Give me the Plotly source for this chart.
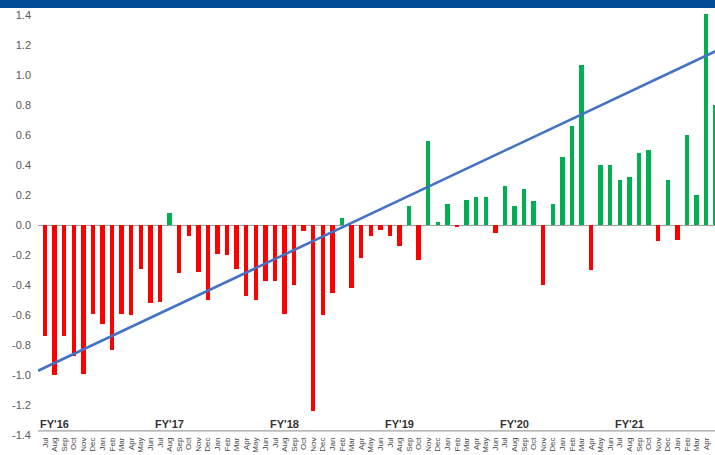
import plotly.graph_objects as go

# Monthly values, Jul FY'16 through May FY'22
months = ["Jul", "Aug", "Sep", "Oct", "Nov", "Dec",
          "Jan", "Feb", "Mar", "Apr", "May", "Jun"]
fiscal_years = ["FY'16", "FY'17", "FY'18", "FY'19", "FY'20", "FY'21"]

values = [
    # FY'16
    -0.74, -1.00, -0.74, -0.87, -0.99, -0.59, -0.66, -0.83, -0.59, -0.60, -0.29, -0.52,
    # FY'17
    -0.51, 0.08, -0.32, -0.07, -0.31, -0.50, -0.19, -0.20, -0.29, -0.47, -0.50, -0.37,
    # FY'18
    -0.37, -0.59, -0.40, -0.04, -1.24, -0.60, -0.45, 0.05, -0.42, -0.22, -0.07, -0.03,
    # FY'19
    -0.07, -0.14, 0.13, -0.23, 0.56, 0.02, 0.14, -0.015, 0.17, 0.19, 0.19, -0.055,
    # FY'20
    0.26, 0.13, 0.24, 0.16, -0.40, 0.14, 0.455, 0.66, 1.07, -0.30, 0.40, 0.40,
    # FY'21
    0.30, 0.32, 0.48, 0.50, -0.107, 0.30, -0.10, 0.60, 0.20, 1.41, 0.80,
]

# Linear trend endpoints (month position, value)
trend_x = [0.27, 71.0]
trend_y = [-0.972, 1.159]

y_ticks = [-1.4, -1.2, -1.0, -0.8, -0.6, -0.4, -0.2, 0.0,
           0.2, 0.4, 0.6, 0.8, 1.0, 1.2, 1.4]

RED = "#ff0000"
GREEN = "#00b050"
BLUE_LINE = "#4472c4"
HEADER = "#004c97"
FONT = "Liberation Sans, Arial, sans-serif"

x_pos = list(range(1, len(values) + 1))
month_labels = [months[(i - 1) % 12] for i in x_pos]
bar_colors = [GREEN if v >= 0 else RED for v in values]

fig = go.Figure()

fig.add_trace(go.Bar(
    x=x_pos, y=values, width=0.46,
    marker=dict(color=bar_colors, line=dict(width=0)),
    hoverinfo="x+y", showlegend=False,
))

fig.add_trace(go.Scatter(
    x=trend_x, y=trend_y, mode="lines",
    line=dict(color=BLUE_LINE, width=2.6),
    hoverinfo="skip", showlegend=False,
))

# Fiscal-year labels sitting on the category axis
annotations = []
for k, fy in enumerate(fiscal_years):
    annotations.append(dict(
        x=1 + 12 * k - 0.7, y=-1.327, xref="x", yref="y",
        text=f"<b>{fy}</b>", showarrow=False,
        xanchor="left", yanchor="middle",
        font=dict(family=FONT, size=11, color="#333333"),
    ))

shapes = [
    # category axis line
    dict(type="line", xref="paper", yref="y", x0=0, x1=1, y0=-1.372, y1=-1.372,
         line=dict(color="#a0a0a0", width=1.2), layer="above"),
    # header band across the top
    dict(type="rect", xref="paper", yref="paper",
         x0=-0.06, x1=1.01, y0=1.0, y1=1.0 + 9 / 427,
         fillcolor=HEADER, line=dict(width=0), layer="above"),
]

fig.update_layout(
    width=715, height=455,
    margin=dict(l=38, r=0, t=8, b=20, pad=0),
    paper_bgcolor="white", plot_bgcolor="white",
    font=dict(family=FONT),
    bargap=0,
    annotations=annotations,
    shapes=shapes,
    xaxis=dict(
        range=[0.27, 70.93],
        tickmode="array", tickvals=x_pos, ticktext=month_labels,
        tickangle=-90, ticks="", showgrid=False, showline=False,
        zeroline=False,
        tickfont=dict(family=FONT, size=8, color="#444444"),
    ),
    yaxis=dict(
        range=[-1.4, 1.4467],
        tickmode="array", tickvals=y_ticks,
        ticktext=[f"{t:.1f}" for t in y_ticks],
        ticks="", showgrid=False, showline=False,
        zeroline=True, zerolinecolor="#a0a0a0", zerolinewidth=1.2,
        tickfont=dict(family=FONT, size=11, color="#595959"),
        ticklabelstandoff=6,
    ),
)

fig.write_html("out.html")
